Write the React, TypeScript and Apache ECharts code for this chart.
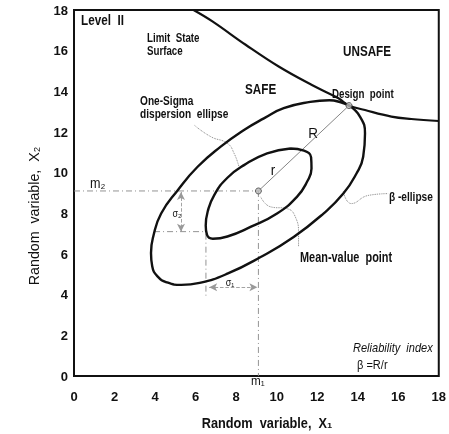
import React, { useEffect, useRef } from "react";
import * as echarts from "echarts";

// ---- data ----
const limitStateCurve: number[][] = [
  [5.9, 18.0], [6.83, 17.44], [8.47, 16.29], [10.1, 15.22], [11.74, 14.31],
  [13.05, 13.66], [13.57, 13.3], [14.36, 13.08], [15.66, 12.76], [16.64, 12.64], [18.0, 12.54],
];
const outerEllipse: number[][] = [
  [13.57, 13.3], [14.11, 12.76], [14.36, 11.93], [14.27, 10.78], [13.94, 9.96], [13.29, 8.97],
  [12.31, 7.99], [10.84, 6.84], [9.21, 5.85], [7.57, 5.03], [6.2, 4.58], [5.3, 4.48],
  [4.6, 4.6], [4.12, 4.9], [3.86, 5.4], [3.8, 6.05], [3.92, 6.9], [4.3, 7.99], [5.12, 9.14],
  [6.1, 10.29], [7.24, 11.28], [8.39, 12.1], [9.37, 12.67], [10.35, 13.17], [11.66, 13.48],
  [12.6, 13.56], [13.2, 13.45], [13.57, 13.3],
];
const innerEllipse: number[][] = [
  [10.68, 11.19], [11.35, 11.08], [11.7, 10.75], [11.72, 10.2], [11.5, 9.55], [11.0, 8.81],
  [10.02, 7.99], [8.71, 7.33], [7.57, 6.86], [6.85, 6.75], [6.56, 6.95], [6.5, 7.4],
  [6.6, 8.1], [6.92, 8.9], [7.57, 9.75], [8.39, 10.37], [9.53, 10.95], [10.68, 11.19],
];
const meanPoint = [9.1, 9.1];
const designPoint = [13.57, 13.3];
const sigmaLeader: number[][] = [[5.93, 12.34], [6.75, 11.77], [7.57, 11.44], [7.9, 10.95], [8.14, 10.29]];
const betaLeader: number[][] = [[13.29, 9.07], [13.68, 8.48], [14.52, 8.88], [15.5, 8.97]];
const meanLeader: number[][] = [[9.21, 8.81], [9.7, 8.32], [10.51, 8.23], [10.92, 7.83], [11.08, 7.0], [11.08, 6.35]];
const sigma1Span = [6.67, 9.05, 4.37]; // x from, x to, at y
const sigma2Span = [9.05, 7.1, 5.28]; // y from, y to, at x
const sigma1Guide: number[][] = [[6.51, 7.0], [6.51, 3.9]];
const sigma2Guide: number[][] = [[3.95, 7.1], [6.5, 7.1]];
const axisMin = 0;
const axisMax = 18;
const axisStep = 2;

const FONT = '"Liberation Sans", Arial, sans-serif';
const NARROW = 0.78;

function txt(x: number, y: number, text: string, size: number, opts: any = {}) {
  return {
    type: "text",
    x,
    y,
    rotation: opts.rotation || 0,
    scaleX: opts.scale || NARROW,
    scaleY: 1,
    silent: true,
    style: {
      text,
      fontFamily: FONT,
      fontSize: size,
      fontWeight: opts.weight || "bold",
      fontStyle: opts.italic ? "italic" : "normal",
      fill: "#111",
      align: opts.align || "left",
      verticalAlign: "middle",
      lineHeight: opts.lineHeight,
    },
  };
}

export default function App() {
  const ref = useRef<HTMLDivElement>(null);
  useEffect(() => {
    if (!ref.current) return;
    const chart = echarts.init(ref.current, undefined, { renderer: "svg" });
    const dashDot = { color: "#888", width: 0.9, type: [6, 3, 1, 3] as any };
    const axisCommon = {
      type: "value" as const,
      min: axisMin,
      max: axisMax,
      interval: axisStep,
      axisLine: { show: false },
      axisTick: { show: false },
      splitLine: { show: false },
      axisLabel: { fontFamily: FONT, fontSize: 13, fontWeight: "bold", color: "#111" },
    };
    chart.setOption({
      animation: false,
      grid: {
        left: 74, right: 8, top: 10, bottom: 58,
        show: true, borderColor: "#111", borderWidth: 2, backgroundColor: "#fff",
      },
      xAxis: { ...axisCommon, axisLabel: { ...axisCommon.axisLabel, margin: 14 } },
      yAxis: { ...axisCommon, axisLabel: { ...axisCommon.axisLabel, margin: 6 } },
      series: [
        {
          type: "line", data: [[axisMin, meanPoint[1]], meanPoint], showSymbol: false,
          lineStyle: dashDot, silent: true, z: 1,
        },
        {
          type: "line", data: [meanPoint, [meanPoint[0], axisMin]], showSymbol: false,
          lineStyle: dashDot, silent: true, z: 1,
        },
        { type: "line", data: sigma1Guide, showSymbol: false, lineStyle: dashDot, silent: true, z: 1 },
        { type: "line", data: sigma2Guide, showSymbol: false, lineStyle: dashDot, silent: true, z: 1 },
        {
          type: "line", data: [], silent: true,
          markLine: {
            silent: true,
            symbol: ["arrow", "arrow"],
            symbolSize: [6, 8],
            label: { show: false },
            lineStyle: { color: "#999", width: 0.9, type: "dashed" },
            data: [
              [{ coord: [sigma1Span[0], sigma1Span[2]] }, { coord: [sigma1Span[1], sigma1Span[2]] }],
              [{ coord: [sigma2Span[2], sigma2Span[0]] }, { coord: [sigma2Span[2], sigma2Span[1]] }],
            ],
          },
        },
        {
          type: "line", data: [meanPoint, designPoint], showSymbol: false,
          lineStyle: { color: "#777", width: 0.9 }, silent: true, z: 1,
        },
        ...[sigmaLeader, betaLeader, meanLeader].map((d) => ({
          type: "line", data: d, smooth: true, showSymbol: false, silent: true, z: 1,
          lineStyle: { color: "#777", width: 0.9, type: "dotted" },
        })),
        {
          type: "line", data: limitStateCurve, smooth: 0.4, showSymbol: false, silent: true, z: 3,
          lineStyle: { color: "#111", width: 2.2 },
        },
        {
          type: "line", data: outerEllipse, smooth: 0.5, showSymbol: false, silent: true, z: 3,
          lineStyle: { color: "#111", width: 2.4 },
        },
        {
          type: "line", data: innerEllipse, smooth: 0.5, showSymbol: false, silent: true, z: 3,
          lineStyle: { color: "#111", width: 2.4 },
        },
        {
          type: "scatter", data: [meanPoint, designPoint], symbolSize: 6, silent: true, z: 5,
          itemStyle: { color: "#bbb", borderColor: "#444", borderWidth: 1 },
        },
      ],
      graphic: [
        txt(81, 20, "Level  II", 15),
        txt(147, 44, "Limit  State\nSurface", 12.5, { lineHeight: 13 }),
        txt(140, 106, "One-Sigma\ndispersion  ellipse", 13, { lineHeight: 13 }),
        txt(245, 89, "SAFE", 15),
        txt(343, 51, "UNSAFE", 15),
        txt(332, 94, "Design  point", 12.5),
        txt(313, 133, "R", 15, { weight: "normal", align: "center", scale: 0.9 }),
        txt(273, 170, "r", 15, { weight: "normal", align: "center", scale: 0.9 }),
        txt(389, 196, "\u03b2 -ellipse", 13),
        txt(300, 258, "Mean-value  point", 14),
        txt(353, 348, "Reliability  index", 13, { italic: true, weight: "normal", scale: 0.85 }),
        txt(357, 365, "\u03b2 =R/r", 13, { weight: "normal", scale: 0.85 }),
        txt(90, 183, "m\u2082", 14, { weight: "normal", scale: 0.9 }),
        txt(251, 381, "m\u2081", 13, { weight: "normal", scale: 0.9 }),
        txt(177, 213, "\u03c3\u2082", 10, { weight: "normal", align: "center", scale: 0.9 }),
        txt(230, 282, "\u03c3\u2081", 10, { weight: "normal", align: "center", scale: 0.9 }),
        txt(267, 423, "Random  variable,  X\u2081", 15, { align: "center", scale: 0.85 }),
        txt(34, 216, "Random  variable,  X\u2082", 15, { align: "center", rotation: Math.PI / 2, weight: "normal", scale: 0.95 }),
      ],
    });
    return () => chart.dispose();
  }, []);
  return <div ref={ref} style={{ position: "fixed", left: 0, top: 0, width: 449, height: 434 }} />;
}
